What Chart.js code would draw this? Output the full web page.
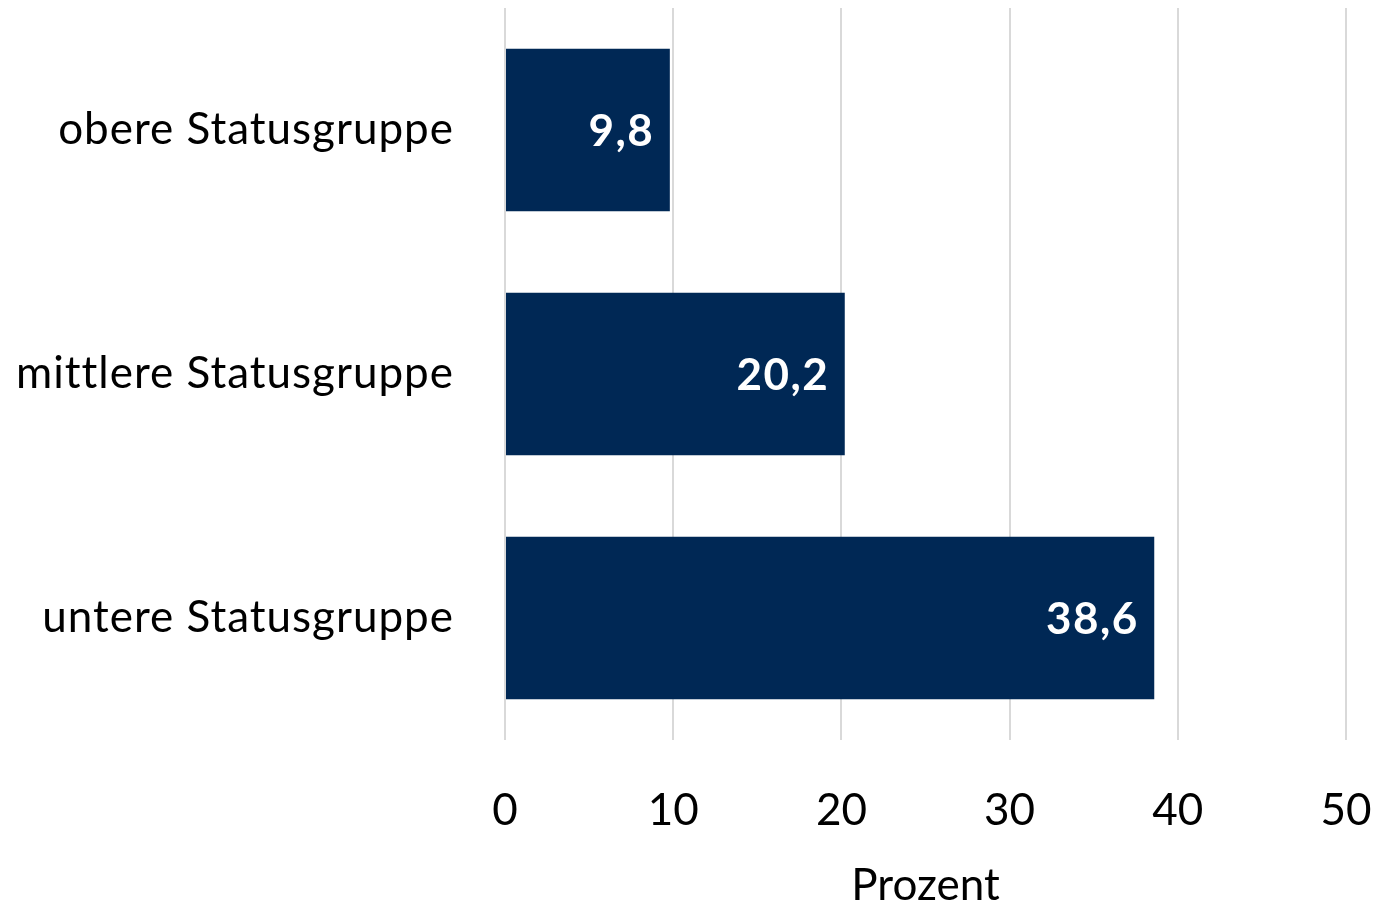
<!DOCTYPE html>
<html><head><meta charset="utf-8">
<script src="https://cdn.jsdelivr.net/npm/chart.js@4/dist/chart.umd.min.js"></script>
<style>html,body{margin:0;padding:0;background:#fff;}#wrap{width:1376px;height:903px;}</style>
</head><body><div id="wrap"><canvas id="c" width="1376" height="903"></canvas></div>
<script>
const categories = ["obere Statusgruppe", "mittlere Statusgruppe", "untere Statusgruppe"];
const values = [9.8, 20.2, 38.6];
const valueLabels = ["9,8", "20,2", "38,6"];
const xTicks = [0, 10, 20, 30, 40, 50];
const axisTitle = "Prozent";
const FONT = "Lato, 'Open Sans', sans-serif";

const labelPlugin = {
  id: 'vlabels',
  beforeDraw(chart) { chart.ctx.letterSpacing = '0px'; },
  afterDatasetsDraw(chart) {
    const ctx = chart.ctx;
    const meta = chart.getDatasetMeta(0);
    ctx.save();
    ctx.letterSpacing = '1.5px';
    ctx.fillStyle = '#ffffff';
    ctx.font = "bold 44px " + FONT;
    ctx.textAlign = 'right';
    ctx.textBaseline = 'middle';
    meta.data.forEach((bar, i) => {
      ctx.fillText(valueLabels[i], bar.x - 15.5, bar.y + 2);
    });
    ctx.restore();
    // category labels (drawn at z=1) get slightly wider spacing
    ctx.letterSpacing = '1px';
  },
  afterDraw(chart) { chart.ctx.letterSpacing = '0px'; }
};

new Chart(document.getElementById('c'), {
  type: 'bar',
  data: {
    labels: categories,
    datasets: [{ data: values, backgroundColor: '#002855', barPercentage: 0.667, categoryPercentage: 1.0 }]
  },
  options: {
    indexAxis: 'y',
    responsive: false,
    animation: false,
    layout: { padding: { top: 8, right: 30, bottom: 0, left: 0 } },
    plugins: { legend: { display: false }, tooltip: { enabled: false } },
    scales: {
      x: {
        min: 0, max: 50,
        afterBuildTicks(s) { s.ticks = xTicks.map(v => ({ value: v })); },
        grid: { color: '#d9d9d9', lineWidth: 2, drawTicks: false },
        border: { display: false },
        ticks: { color: '#000', font: { family: FONT, size: 44 }, padding: 44 },
        title: { display: true, text: axisTitle, color: '#000', font: { family: FONT, size: 44, lineHeight: 0.8 }, padding: { top: 0, bottom: 0 } },
        afterFit(s) { s.height = 163; s.paddingLeft = 0; s.paddingRight = 0; }
      },
      y: {
        grid: { display: false, drawTicks: false },
        border: { display: false },
        ticks: { color: '#000', font: { family: FONT, size: 44 }, padding: 51, z: 1 },
        afterFit(s) { s.width = 505; s.paddingTop = 0; s.paddingBottom = 0; }
      }
    }
  },
  plugins: [labelPlugin]
});
</script></body></html>
